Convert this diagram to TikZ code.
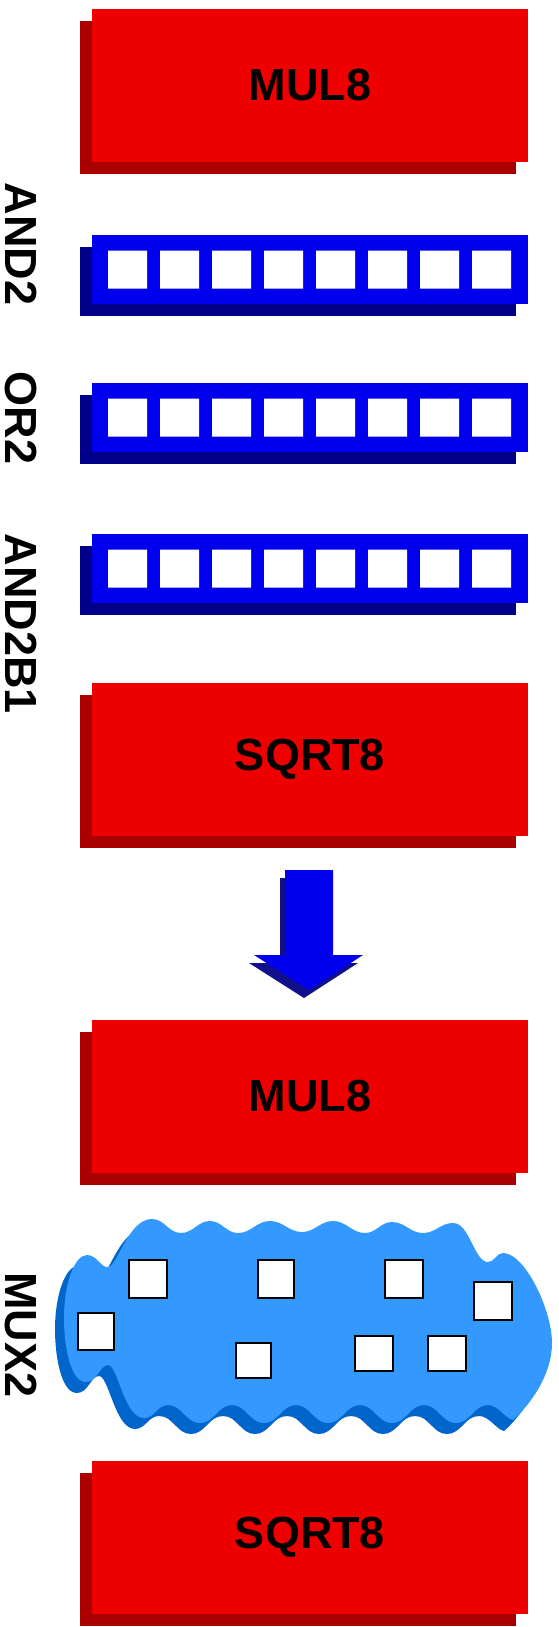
\documentclass[tikz,border=0pt]{standalone}
\usepackage{fontspec}
\setmainfont{Liberation Sans}
\usetikzlibrary{shadows}

\definecolor{unitred}{RGB}{238,0,0}
\definecolor{unitreddark}{RGB}{170,0,0}
\definecolor{gateblue}{RGB}{0,0,238}
\definecolor{gatebluedark}{RGB}{0,0,136}
\definecolor{muxblue}{RGB}{51,153,255}
\definecolor{muxbluedark}{RGB}{0,102,204}
\definecolor{arrowdark}{RGB}{16,16,140}

% wavy outline of the mux cloud
\newcommand{\muxblob}[1]{%
  \fill[#1] (64,1318) .. controls (64,1285) and (74,1255) .. (87,1255)
    .. controls (97,1255) and (101,1268) .. (108,1267)
    .. controls (118,1266) and (128,1219) .. (152,1219)
    to[out=0,in=180] (181,1233) to[out=0,in=180] (210,1221)
    to[out=0,in=180] (238,1233) to[out=0,in=180] (270,1221)
    to[out=0,in=180] (302,1232) to[out=0,in=180] (333,1221)
    to[out=0,in=180] (365,1233) to[out=0,in=180] (392,1222)
    to[out=0,in=180] (423,1233) to[out=0,in=180] (453,1223)
    .. controls (470,1223) and (474,1262) .. (488,1262)
    to[out=0,in=180] (503,1253)
    .. controls (525,1253) and (552,1310) .. (552,1343)
    .. controls (552,1375) and (530,1405) .. (513,1420)
    .. controls (505,1418) and (498,1405) .. (488,1405)
    to[out=180,in=0] (456,1423) to[out=180,in=0] (424,1405)
    to[out=180,in=0] (392,1423) to[out=180,in=0] (360,1405)
    to[out=180,in=0] (328,1423) to[out=180,in=0] (296,1405)
    to[out=180,in=0] (264,1423) to[out=180,in=0] (232,1405)
    to[out=180,in=0] (200,1423) to[out=180,in=0] (168,1405)
    to[out=180,in=0] (144,1418)
    .. controls (124,1418) and (118,1365) .. (108,1365)
    .. controls (100,1365) and (97,1382) .. (86,1382)
    .. controls (70,1382) and (64,1345) .. (64,1318) -- cycle;}

\begin{document}
\begin{tikzpicture}[x=1pt,y=-1pt,
  every node/.style={font=\bfseries\fontsize{45}{54}\selectfont},
  unit/.style={fill=unitred,minimum width=436pt,minimum height=153pt,inner sep=0pt,
    drop shadow={shadow xshift=-12pt,shadow yshift=-12pt,fill=unitreddark,opacity=1}},
  gaterow/.style={fill=gateblue,minimum width=436pt,minimum height=69pt,inner sep=0pt,
    drop shadow={shadow xshift=-12pt,shadow yshift=-12pt,fill=gatebluedark,opacity=1}},
  sidelabel/.style={rotate=-90,inner sep=0pt},
  muxcell/.style={fill=white,draw=black,line width=1.5pt}]
\useasboundingbox (0,0) rectangle (558,1627);

% before
\node[unit] (mulA) at (310,85.5) {MUL8};
\node[gaterow] (and2) at (310,269.5) {};
\fill[white] (108,250.5) rectangle +(39,38) (160,250.5) rectangle +(39,38)
  (212,250.5) rectangle +(39,38) (264,250.5) rectangle +(39,38)
  (316,250.5) rectangle +(39,38) (368,250.5) rectangle +(39,38)
  (420,250.5) rectangle +(39,38) (472,250.5) rectangle +(39,38);
\node[gaterow] (or2) at (310,417.5) {};
\fill[white] (108,398.5) rectangle +(39,38) (160,398.5) rectangle +(39,38)
  (212,398.5) rectangle +(39,38) (264,398.5) rectangle +(39,38)
  (316,398.5) rectangle +(39,38) (368,398.5) rectangle +(39,38)
  (420,398.5) rectangle +(39,38) (472,398.5) rectangle +(39,38);
\node[gaterow] (and2b1) at (310,568.5) {};
\fill[white] (108,549.5) rectangle +(39,38) (160,549.5) rectangle +(39,38)
  (212,549.5) rectangle +(39,38) (264,549.5) rectangle +(39,38)
  (316,549.5) rectangle +(39,38) (368,549.5) rectangle +(39,38)
  (420,549.5) rectangle +(39,38) (472,549.5) rectangle +(39,38);
\node[unit] (sqrtA) at (310,759) {SQRT8};

\node[sidelabel] (and2lbl) at (21,244) {AND2};
\node[sidelabel] (or2lbl) at (21,418) {OR2};
\node[sidelabel] (and2b1lbl) at (21,624) {AND2B1};

% arrow
\fill[arrowdark,shift={(-5,8)}] (285,870) -- (333,870) -- (333,955) -- (363,955)
  -- (309,990) -- (254,955) -- (285,955) -- cycle;
\fill[gateblue] (285,870) -- (333,870) -- (333,955) -- (363,955)
  -- (309,990) -- (254,955) -- (285,955) -- cycle;

% after
\node[unit] (mulB) at (310,1096) {MUL8};
\muxblob{muxbluedark,shift={(-9,11)}}
\muxblob{muxblue}
\filldraw[muxcell] (129,1260) rectangle (167,1298);
\filldraw[muxcell] (258,1260) rectangle (294,1298);
\filldraw[muxcell] (385,1260) rectangle (423,1298);
\filldraw[muxcell] (474,1282) rectangle (512,1320);
\filldraw[muxcell] (78,1313) rectangle (114,1350);
\filldraw[muxcell] (236,1343) rectangle (271,1378);
\filldraw[muxcell] (355,1336) rectangle (393,1371);
\filldraw[muxcell] (428,1336) rectangle (466,1371);
\node[sidelabel] (mux2lbl) at (21,1335) {MUX2};
\node[unit] (sqrtB) at (310,1537) {SQRT8};
\end{tikzpicture}
\end{document}
